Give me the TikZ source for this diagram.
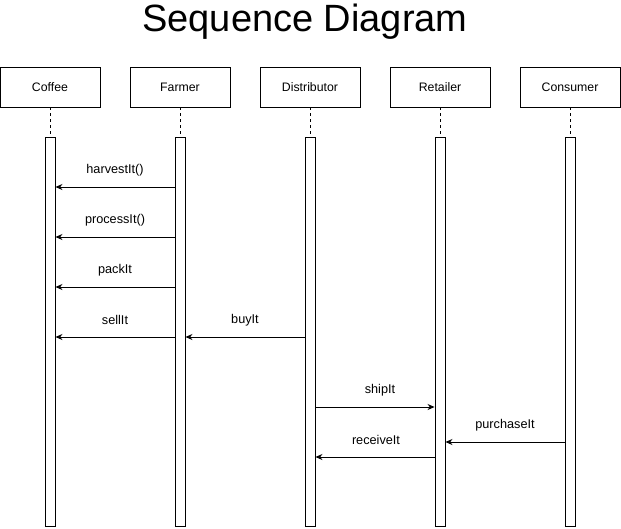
\documentclass[tikz,border=0pt]{standalone}
\usepackage{fontspec}
\setmainfont{Liberation Sans}
\usetikzlibrary{arrows.meta}
\begin{document}
\begin{tikzpicture}[x=1pt,y=-1pt,
  actor/.style={draw=black,fill=white,line width=0.9pt,minimum width=100pt,minimum height=40pt,inner sep=0pt,font=\fontsize{12.3}{14}\selectfont},
  bar/.style={draw=black,fill=white,line width=0.9pt,minimum width=10pt,minimum height=389pt,inner sep=0pt,anchor=north},
  life/.style={draw=black,line width=0.7pt,dash pattern=on 3pt off 3pt},
  msg/.style={draw=black,line width=0.9pt,-{Stealth[length=7pt,width=6pt]}},
  lbl/.style={font=\fontsize{12.7}{14}\selectfont,inner sep=0pt}]
\useasboundingbox (0,0) rectangle (621,528);
\node[font=\fontsize{38}{40}\selectfont] (title) at (305,22) {Sequence Diagram};
\foreach \n/\t/\x in {coffee/Coffee/50,farmer/Farmer/180,distributor/Distributor/310,retailer/Retailer/440,consumer/Consumer/570}{
  \node[actor] (\n) at (\x,87) {\t};
  \node[bar] (\n bar) at (\x,137) {};
  \draw[life] (\n.south) -- (\n bar.north);
}
\coordinate (y1) at (0,187);
\coordinate (y2) at (0,237);
\coordinate (y3) at (0,287);
\coordinate (y4) at (0,337);
\coordinate (y5) at (0,407);
\coordinate (y6) at (0,442);
\coordinate (y7) at (0,457);
\draw[msg] (farmerbar.west |- y1) -- (coffeebar.east |- y1);
\node[lbl] (l1) at (115,170) {harvestIt()};
\draw[msg] (farmerbar.west |- y2) -- (coffeebar.east |- y2);
\node[lbl] (l2) at (115,220) {processIt()};
\draw[msg] (farmerbar.west |- y3) -- (coffeebar.east |- y3);
\node[lbl] (l3) at (115,270) {packIt};
\draw[msg] (farmerbar.west |- y4) -- (coffeebar.east |- y4);
\node[lbl] (l4) at (115,320) {sellIt};
\draw[msg] (distributorbar.west |- y4) -- (farmerbar.east |- y4);
\node[lbl] (l5) at (245,320) {buyIt};
\draw[msg] (distributorbar.east |- y5) -- (retailerbar.west |- y5);
\node[lbl] (l6) at (380,390) {shipIt};
\draw[msg] (consumerbar.west |- y6) -- (retailerbar.east |- y6);
\node[lbl] (l7) at (505,425) {purchaseIt};
\draw[msg] (retailerbar.west |- y7) -- (distributorbar.east |- y7);
\node[lbl] (l8) at (376,440) {receiveIt};
\end{tikzpicture}
\end{document}
